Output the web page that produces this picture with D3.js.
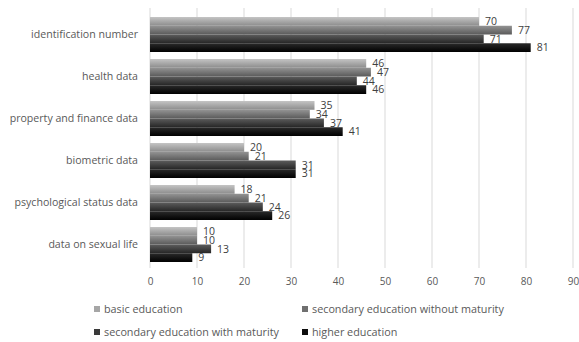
<!DOCTYPE html>
<html>
<head>
<meta charset="utf-8">
<script src="https://cdn.jsdelivr.net/npm/d3@7"></script>
<style>
  html, body { margin: 0; padding: 0; background: #fff; }
  svg { display: block; font-family: "Open Sans", "Liberation Sans", sans-serif; }
</style>
</head>
<body>
<svg id="chart" width="579" height="342"></svg>
<script>
// Categories, top to bottom
const categories = [
  "identification number",
  "health data",
  "property and finance data",
  "biometric data",
  "psychological status data",
  "data on sexual life"
];

// Education groups (series)
const seriesNames = [
  "basic education",
  "secondary education without maturity",
  "secondary education with maturity",
  "higher education"
];

// Values per series, in category order
const basicEducation      = [70, 46, 35, 20, 18, 10];
const secondaryNoMaturity = [77, 47, 34, 21, 21, 10];
const secondaryMaturity   = [71, 44, 37, 31, 24, 13];
const higherEducation     = [81, 46, 41, 31, 26, 9];

const xTicks = [0, 10, 20, 30, 40, 50, 60, 70, 80, 90];

const seriesValues = [basicEducation, secondaryNoMaturity, secondaryMaturity, higherEducation];

// Gradient stops (top, bottom) for each series
const shades = [
  ["#c4c4c4", "#8c8c8c"],
  ["#939393", "#5a5a5a"],
  ["#5c5c5c", "#262626"],
  ["#2a2a2a", "#000000"]
];
const legendColors = ["#a6a6a6", "#707070", "#3a3a3a", "#0d0d0d"];

const svg = d3.select("#chart");

const x = d3.scaleLinear().domain([0, 90]).range([150, 573]);
const y = d3.scaleBand().domain(categories).range([10, 269])
  .paddingInner(0.167).paddingOuter(0.167);
const ySub = d3.scaleBand().domain(d3.range(seriesNames.length)).range([0, y.bandwidth()]);

const defs = svg.append("defs");
shades.forEach((s, i) => {
  const g = defs.append("linearGradient").attr("id", "grad" + i)
    .attr("x1", 0).attr("y1", 0).attr("x2", 0).attr("y2", 1);
  g.append("stop").attr("offset", "0%").attr("stop-color", s[0]);
  g.append("stop").attr("offset", "100%").attr("stop-color", s[1]);
});

// Vertical gridlines
svg.append("g")
  .selectAll("line")
  .data(xTicks)
  .join("line")
  .attr("x1", d => x(d)).attr("x2", d => x(d))
  .attr("y1", 8).attr("y2", 268)
  .attr("stroke", "#d9d9d9").attr("stroke-width", 1);

// X axis tick labels
const xAxis = d3.axisBottom(x).tickValues(xTicks).tickSize(0).tickPadding(0);
const gx = svg.append("g").attr("transform", "translate(0,278)").call(xAxis);
gx.select(".domain").remove();
gx.selectAll("text")
  .attr("font-size", 10).attr("fill", "#595959")
  .attr("font-family", "Open Sans, Liberation Sans, sans-serif");

// Category labels
const yAxis = d3.axisLeft(y).tickSize(0).tickPadding(0);
const gy = svg.append("g").attr("transform", "translate(138,0)").call(yAxis);
gy.select(".domain").remove();
gy.selectAll("text")
  .attr("font-size", 10.6).attr("fill", "#595959")
  .attr("font-family", "Open Sans, Liberation Sans, sans-serif");

// Bars
const rows = [];
categories.forEach((c, ci) => {
  seriesValues.forEach((vals, si) => rows.push({ cat: c, s: si, v: vals[ci] }));
});

svg.append("g")
  .selectAll("rect")
  .data(rows)
  .join("rect")
  .attr("x", x(0))
  .attr("y", d => y(d.cat) + ySub(d.s))
  .attr("width", d => x(d.v) - x(0))
  .attr("height", ySub.bandwidth())
  .attr("fill", d => "url(#grad" + d.s + ")");

// Value labels
svg.append("g")
  .selectAll("text")
  .data(rows)
  .join("text")
  .attr("x", d => x(d.v) + 6)
  .attr("y", d => y(d.cat) + ySub(d.s) + ySub.bandwidth() / 2)
  .attr("dy", "0.36em")
  .attr("font-size", 10.5)
  .attr("fill", "#404040")
  .text(d => d.v);

// Legend
const legendPos = [[97, 309], [305, 309], [97, 332], [305, 332]];
const lg = svg.append("g")
  .selectAll("g")
  .data(seriesNames)
  .join("g")
  .attr("transform", (d, i) => `translate(${legendPos[i][0]},${legendPos[i][1]})`);
lg.append("rect")
  .attr("x", -3).attr("y", -3).attr("width", 6).attr("height", 6)
  .attr("fill", (d, i) => legendColors[i]);
lg.append("text")
  .attr("x", 7).attr("dy", "0.35em")
  .attr("font-size", 10.8).attr("fill", "#595959")
  .text(d => d);
</script>
</body>
</html>
